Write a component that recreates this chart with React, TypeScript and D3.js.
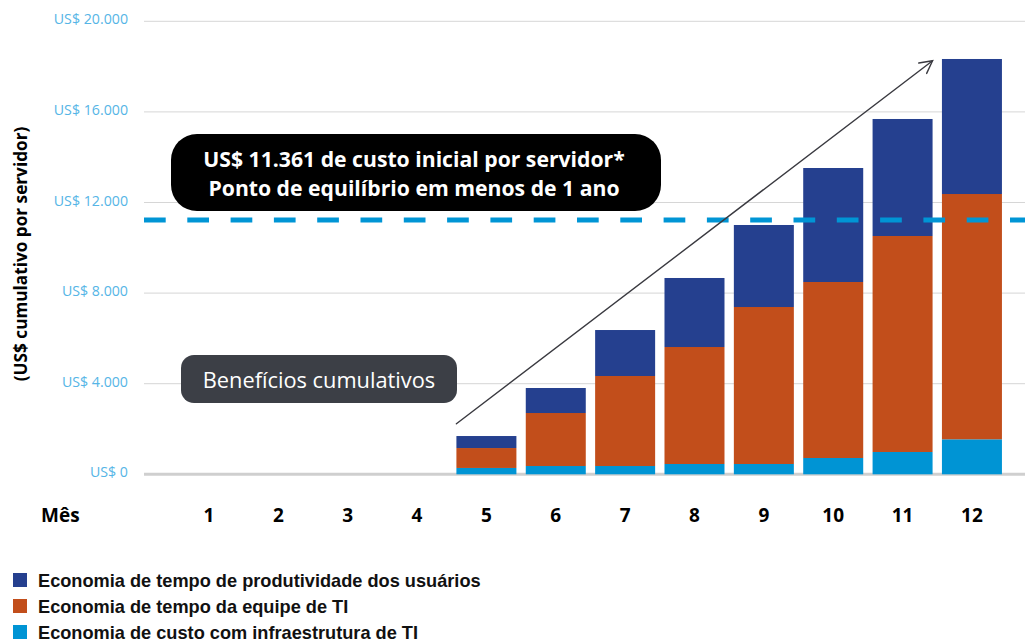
import React from "react";
import * as d3 from "d3";

const months = [1, 2, 3, 4, 5, 6, 7, 8, 9, 10, 11, 12];
const infraSavings = [0, 0, 0, 0, 280, 366, 366, 455, 455, 720, 985, 1545];
const itStaffSavings = [0, 0, 0, 0, 880, 2340, 3974, 5165, 6931, 7770, 9536, 10830];
const userProductivity = [0, 0, 0, 0, 530, 1104, 2030, 3047, 3621, 5033, 5166, 5961];
const yTicks = [0, 4000, 8000, 12000, 16000, 20000];
const yTickLabels = ["US$ 0", "US$ 4.000", "US$ 8.000", "US$ 12.000", "US$ 16.000", "US$ 20.000"];
const breakEvenLine = 11230;
const arrowStartValue = 2230;
const arrowEndValue = 18260;
const seriesKeys = ["infra", "it", "users"];
const seriesColors = ["#0094d4", "#c24e1b", "#25408f"];
const legendItems = [
  { label: "Economia de tempo de produtividade dos usuários", color: "#25408f" },
  { label: "Economia de tempo da equipe de TI", color: "#c24e1b" },
  { label: "Economia de custo com infraestrutura de TI", color: "#0094d4" },
];

export default function App() {
  const W = 1029;
  const H = 642;
  const x = d3
    .scaleBand<number>()
    .domain(months)
    .range([169.6, 1011.3])
    .paddingInner(0.135)
    .paddingOuter(0.135);
  const y = d3.scaleLinear().domain([0, 20000]).range([474.3, 21.3]);

  const table = months.map((m, i) => ({
    month: m,
    infra: infraSavings[i],
    it: itStaffSavings[i],
    users: userProductivity[i],
  }));
  const stacked = d3.stack<any>().keys(seriesKeys)(table);

  const gridX0 = 144;
  const gridX1 = 1025;
  const sans = "'Open Sans', sans-serif";

  const ax0 = x(5)!;
  const ay0 = y(arrowStartValue);
  const ax1 = x(11)! + x.bandwidth();
  const ay1 = y(arrowEndValue);
  const ang = Math.atan2(ay1 - ay0, ax1 - ax0);
  const headLen = 14;
  const headAng = Math.PI / 6.5;
  const h1 = [ax1 - headLen * Math.cos(ang - headAng), ay1 - headLen * Math.sin(ang - headAng)];
  const h2 = [ax1 - headLen * Math.cos(ang + headAng), ay1 - headLen * Math.sin(ang + headAng)];

  return (
    <svg
      width={W}
      height={H}
      style={{ position: "absolute", left: 0, top: 0, background: "#fff" }}
    >
      {yTicks.map((t) => (
        <line
          key={"g" + t}
          x1={gridX0}
          x2={gridX1}
          y1={y(t)}
          y2={y(t)}
          stroke={t === 0 ? "#cfcfcf" : "#d6d6d6"}
          strokeWidth={t === 0 ? 3 : 1}
        />
      ))}
      {yTicks.map((t, i) => (
        <text
          key={"t" + t}
          x={128}
          y={y(t) + 3}
          textAnchor="end"
          fontFamily={sans}
          fontSize={14.2}
          fill="#55b5e6"
        >
          {yTickLabels[i]}
        </text>
      ))}
      <text
        transform={`translate(27,254) rotate(-90)`}
        textAnchor="middle"
        fontFamily={sans}
        fontWeight={700}
        fontSize={17.2}
        fill="#000"
      >
        (US$ cumulativo por servidor)
      </text>

      {stacked.map((s, si) => (
        <g key={s.key} fill={seriesColors[si]}>
          {s.map((d, di) => {
            const h = y(d[0]) - y(d[1]);
            if (h <= 0) return null;
            return (
              <rect
                key={di}
                x={x(months[di])}
                y={y(d[1])}
                width={x.bandwidth()}
                height={h}
              />
            );
          })}
        </g>
      ))}

      <line
        x1={gridX0}
        x2={gridX1}
        y1={y(breakEvenLine)}
        y2={y(breakEvenLine)}
        stroke="#0095d5"
        strokeWidth={5}
        strokeDasharray="21.7 21.6"
      />

      <g stroke="#3a3a40" strokeWidth={1.4} fill="none" strokeLinecap="round">
        <line x1={ax0} y1={ay0} x2={ax1} y2={ay1} />
        <polyline points={`${h1[0]},${h1[1]} ${ax1},${ay1} ${h2[0]},${h2[1]}`} />
      </g>

      <text x={41} y={522} fontFamily={sans} fontWeight={700} fontSize={19} fill="#000">
        Mês
      </text>
      {months.map((m) => (
        <text
          key={"m" + m}
          x={x(m)! + x.bandwidth() / 2}
          y={522}
          textAnchor="middle"
          fontFamily={sans}
          fontWeight={700}
          fontSize={19}
          fill="#000"
        >
          {m}
        </text>
      ))}

      <rect x={171} y={134} width={490} height={77} rx={26} ry={26} fill="#000" />
      <text
        x={414}
        y={167}
        textAnchor="middle"
        fontFamily={sans}
        fontWeight={700}
        fontSize={21.2}
        fill="#fff"
      >
        US$ 11.361 de custo inicial por servidor*
      </text>
      <text
        x={414}
        y={195.5}
        textAnchor="middle"
        fontFamily={sans}
        fontWeight={700}
        fontSize={21.2}
        fill="#fff"
      >
        Ponto de equilíbrio em menos de 1 ano
      </text>

      <rect x={181} y={355} width={276} height={48} rx={13} ry={13} fill="#3c3f46" />
      <text
        x={319}
        y={387.5}
        textAnchor="middle"
        fontFamily={sans}
        fontSize={21.8}
        fill="#fff"
      >
        Benefícios cumulativos
      </text>

      {legendItems.map((it, i) => (
        <g key={it.label} transform={`translate(13,${573 + i * 26})`}>
          <rect width={14} height={14} fill={it.color} />
          <text
            x={25}
            y={13.8}
            fontFamily="'Liberation Sans', Arial, sans-serif"
            fontWeight={700}
            fontSize={18.2}
            fill="#111"
          >
            {it.label}
          </text>
        </g>
      ))}
    </svg>
  );
}
